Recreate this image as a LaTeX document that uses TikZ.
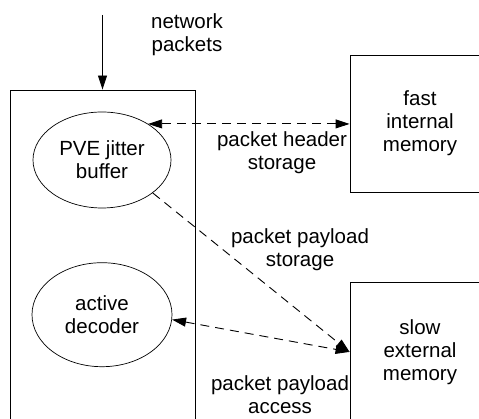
\documentclass[tikz,border=0pt]{standalone}
\usepackage{fontspec}
\setmainfont{Liberation Sans}
\usetikzlibrary{positioning, shapes.geometric, arrows.meta, calc}

\begin{document}
\begin{tikzpicture}[
    x=1pt, y=-1pt,
    >={Triangle[length=14pt, width=9pt]},
    % Styles
    txt/.style={
        font=\fontsize{20.5}{23}\selectfont,
        align=center,
        inner sep=0pt
    },
    dsp/.style={
        rectangle,
        draw,
        line width=0.9pt,
        minimum width=185pt,
        minimum height=340pt
    },
    memory/.style={
        txt,
        rectangle,
        draw,
        line width=0.9pt,
        minimum width=140pt,
        minimum height=138pt
    },
    task/.style={
        txt,
        ellipse,
        draw,
        line width=0.7pt,
        minimum width=138pt,
        minimum height=96pt
    },
    arrow/.style={
        ->,
        line width=0.9pt
    },
    dasharrow/.style={
        ->,
        line width=0.9pt,
        dash pattern=on 9pt off 6pt
    },
    dbldasharrow/.style={
        dasharrow,
        <->
    }
]
    \useasboundingbox (0,0) rectangle (479,419);

    % Nodes
    \node[dsp] (chip) at (102.5,260) {};
    \node[task] (jitter) at (102,160) {PVE jitter\\buffer};
    \node[task, minimum width=140pt, minimum height=104pt, below=54pt of jitter] (decoder) {active\\decoder};
    \node[memory, minimum height=137pt] (fast) at (420,123.5) {fast\\internal\\memory};
    \node[memory, below=90pt of fast] (slow) {slow\\external\\memory};
    \coordinate (in) at (102.5,15);

    % Labels
    \node[txt] (netlabel) at (187,35) {network\\packets};
    \node[txt] (hdrlabel) at (282,153) {packet header\\storage};
    \node[txt] (storelabel) at (300,250) {packet payload\\storage};
    \node[txt] (accesslabel) at (280,395) {packet payload\\access};

    % Paths
    \draw[arrow] (in) -- (chip.north);
    \draw[dbldasharrow] (jitter.38) -- (jitter.38 -| fast.west);
    \draw[dasharrow] (jitter.-33) -- (slow.west);
    \draw[dbldasharrow] (decoder.-4) -- (slow.west);
\end{tikzpicture}
\end{document}
